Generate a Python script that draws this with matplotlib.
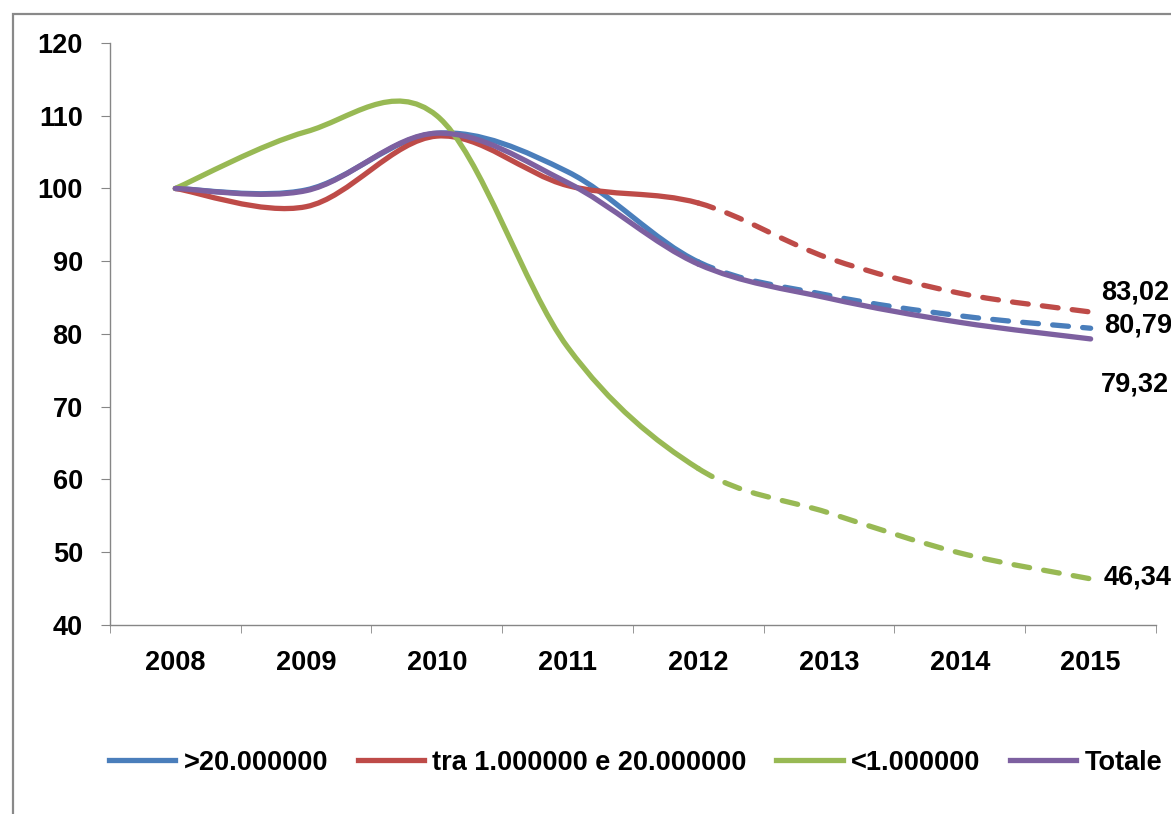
import matplotlib
matplotlib.use("Agg")
import matplotlib.pyplot as plt
from matplotlib.path import Path
from matplotlib.patches import PathPatch, Rectangle
from matplotlib.lines import Line2D
import numpy as np

plt.rcParams['font.family'] = ['Liberation Sans', 'DejaVu Sans']
plt.rcParams['font.weight'] = 'bold'

# Data (index 2008 = 100)
years = ['2008', '2009', '2010', '2011', '2012', '2013', '2014', '2015']
big = [100, 99.8, 107.6, 102.3, 89.9, 85.3, 82.5, 80.79]
mid = [100, 97.5, 107.2, 100.4, 98.0, 90.4, 85.6, 83.02]
small = [100, 107.8, 110.0, 78.2, 61.5, 55.4, 49.9, 46.34]
total = [100, 99.7, 107.6, 100.8, 89.6, 84.9, 81.6, 79.32]

names = ['>20.000000', 'tra 1.000000 e 20.000000', '<1.000000', 'Totale']
colors = ['#4A7EBB', '#BE4B48', '#98B954', '#7D60A0']
end_labels = ['80,79', '83,02', '46,34', '79,32']
label_offsets = [(9.4, 2), (7.2, 13.7), (9.4, 0.7), (7.2, -33)]

# year index where the line turns to dashed
split = 4
LW = 3.8
FS = 19.5


def smooth_path(vals, start, stop):
    # Excel style smoothed line: Catmull-Rom converted to cubic Bezier
    n = len(vals)
    pts = [np.array([i, v], dtype=float) for i, v in enumerate(vals)]
    verts = [pts[start]]
    codes = [Path.MOVETO]
    for i in range(start, stop):
        p_prev = pts[max(i - 1, 0)]
        p_next2 = pts[min(i + 2, n - 1)]
        c1 = pts[i] + (pts[i + 1] - p_prev) / 6
        c2 = pts[i + 1] - (p_next2 - pts[i]) / 6
        verts += [c1, c2, pts[i + 1]]
        codes += [Path.CURVE4] * 3
    return Path(verts, codes)


fig = plt.figure(figsize=(11.71, 8.14), dpi=100)
ax = fig.add_axes([0.0939, 0.2322, 0.8933, 0.7150])

# outer chart frame (cut off at right / bottom like the reference)
fig.patches.append(Rectangle((0.0111, -0.2), 1.5, 0.9828 + 0.2, transform=fig.transFigure,
                             fill=False, edgecolor='#898989', linewidth=1.6))

series = [big, mid, small, total]
for vals, col in zip(series, colors):
    solid = PathPatch(smooth_path(vals, 0, split), fill=False, edgecolor=col, lw=LW,
                      capstyle='round', joinstyle='round')
    dashed = PathPatch(smooth_path(vals, split, len(vals) - 1), fill=False, edgecolor=col, lw=LW,
                       capstyle='round', joinstyle='round', linestyle=(0, (3.0, 2.7)))
    if vals is total:
        dashed.set_linestyle('-')
    ax.add_patch(solid)
    ax.add_patch(dashed)

for vals, lab, off in zip(series, end_labels, label_offsets):
    ax.annotate(lab, xy=(len(vals) - 1, vals[-1]), xytext=off, textcoords='offset points',
                ha='left', va='center', fontsize=FS, fontweight='bold', annotation_clip=False)

ax.set_xlim(-0.5, len(years) - 0.5)
ax.set_ylim(40, 120)
ax.set_yticks(np.arange(40, 121, 10))
ax.set_xticks(range(len(years)))
ax.set_xticklabels(years)
ax.set_xticks(np.arange(-0.5, len(years), 1), minor=True)

for s in ['top', 'right']:
    ax.spines[s].set_visible(False)
for s in ['left', 'bottom']:
    ax.spines[s].set_color('#868686')
    ax.spines[s].set_linewidth(1)

ax.tick_params(axis='y', length=6.5, color='#868686', pad=13, labelsize=FS)
ax.tick_params(axis='x', which='major', length=0, pad=18, labelsize=FS)
ax.tick_params(axis='x', which='minor', length=6, color='#868686')

handles = [Line2D([], [], color=c, lw=LW) for c in colors]
fig.legend(handles, names, loc='center', bbox_to_anchor=(0.5427, 0.063), ncol=4,
           frameon=False, prop={'size': FS, 'weight': 'bold'},
           handlelength=2.45, handletextpad=0.3, columnspacing=1.1)

fig.savefig('out.png', dpi=100)
